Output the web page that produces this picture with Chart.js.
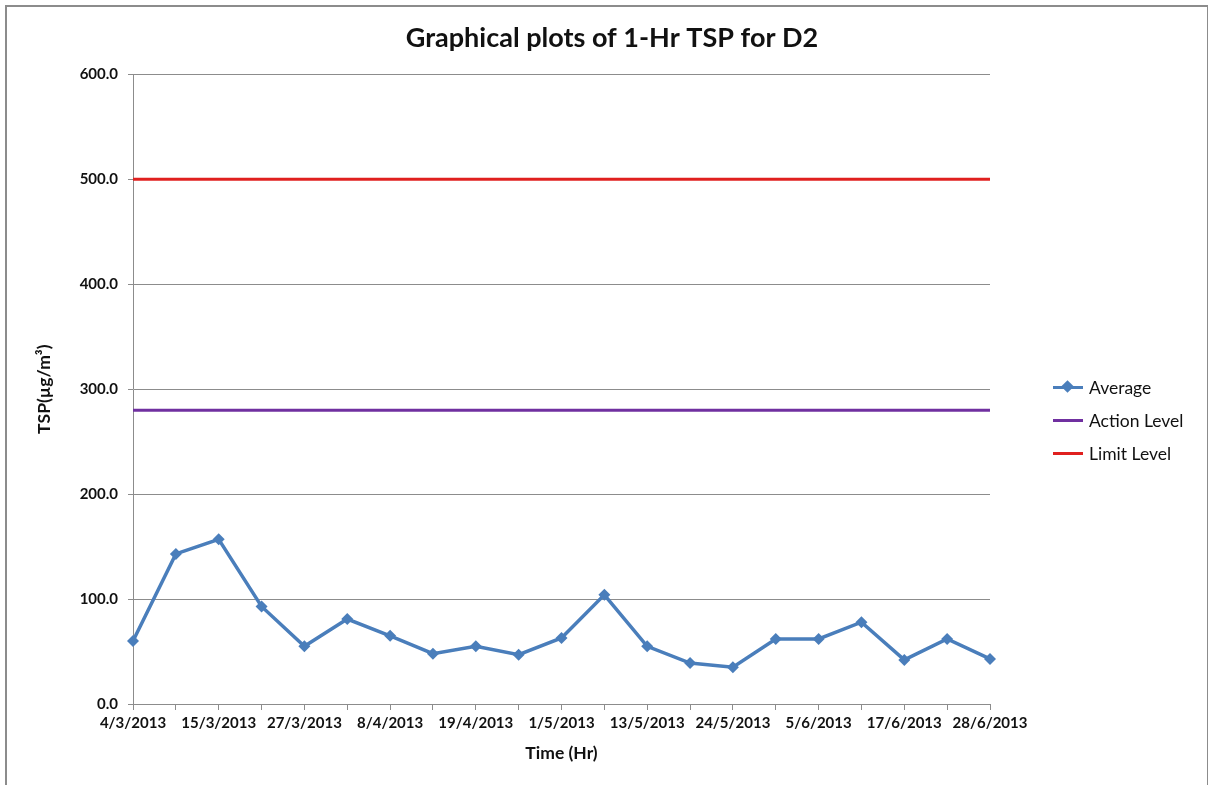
<!DOCTYPE html>
<html>
<head>
<meta charset="utf-8">
<title>Graphical plots of 1-Hr TSP for D2</title>
<script src="https://cdn.jsdelivr.net/npm/chart.js@4/dist/chart.umd.min.js"></script>
<style>
  html, body { margin: 0; padding: 0; background: #fff; overflow: hidden; }
  #wrap { position: relative; width: 1208px; height: 785px; }
  #frame {
    position: absolute; left: 5px; top: 5px; width: 1200px; height: 820px;
    border: 2px solid #8c8c8c; border-bottom: none; pointer-events: none;
  }
  #legend {
    position: absolute; left: 1053px; top: 371px;
    font-family: Lato, "Open Sans", sans-serif; font-size: 17.5px; color: #111;
  }
  .row { display: flex; align-items: center; height: 33px; }
  .key { position: relative; width: 30px; height: 3px; margin-right: 6px; }
  .diamond {
    position: absolute; left: 10px; top: -4px; width: 9px; height: 9px;
    transform: rotate(45deg);
  }
</style>
</head>
<body>
<div id="wrap">
  <canvas id="tspChart" width="1208" height="785"></canvas>
  <div id="legend"></div>
  <div id="frame"></div>
</div>
<script>
// sampling dates (only every other one is labelled on the axis)
const dates = ["4/3/2013", "9/3/2013", "15/3/2013", "21/3/2013", "27/3/2013", "2/4/2013",
  "8/4/2013", "13/4/2013", "19/4/2013", "25/4/2013", "1/5/2013", "7/5/2013", "13/5/2013",
  "18/5/2013", "24/5/2013", "30/5/2013", "5/6/2013", "11/6/2013", "17/6/2013", "22/6/2013",
  "28/6/2013"];
const average = [60, 143, 157, 93, 55, 81, 65, 48, 55, 47, 63, 104, 55, 39, 35, 62, 62, 78, 42, 62, 43];
const actionLevel = 280;
const limitLevel = 500;
const yTicks = [0, 100, 200, 300, 400, 500, 600];

const blue = "#4a7ebb";
const purple = "#7030a0";
const red = "#e0201f";
const axisGrey = "#8c8c8c";
const font = "Lato, 'Open Sans', sans-serif";

Chart.defaults.font.family = font;
Chart.defaults.color = "#111";

const chart = new Chart(document.getElementById("tspChart"), {
    type: "line",
    data: {
        labels: dates,
        datasets: [{
            label: "Average",
            data: average,
            borderColor: blue,
            backgroundColor: blue,
            borderWidth: 3.5,
            pointStyle: "rectRot",
            pointRadius: 6,
            pointBorderWidth: 0,
            tension: 0
        }, {
            label: "Action Level",
            data: dates.map(() => actionLevel),
            borderColor: purple,
            backgroundColor: purple,
            borderWidth: 3,
            pointRadius: 0
        }, {
            label: "Limit Level",
            data: dates.map(() => limitLevel),
            borderColor: red,
            backgroundColor: red,
            borderWidth: 3,
            pointRadius: 0
        }]
    },
    options: {
        responsive: false,
        animation: false,
        layout: { padding: { left: 16, right: 0, top: 0, bottom: 0 } },
        plugins: {
            legend: { display: false },
            tooltip: { enabled: false },
            title: {
                display: true,
                text: "Graphical plots of 1-Hr TSP for D2",
                font: { size: 27, weight: "bold" },
                color: "#111",
                padding: { top: 22, bottom: 20 }
            }
        },
        scales: {
            x: {
                offset: false,
                grid: { drawOnChartArea: false, drawTicks: true, tickLength: 6, color: axisGrey },
                border: { color: axisGrey, width: 1 },
                ticks: {
                    autoSkip: false,
                    maxRotation: 0,
                    padding: 4,
                    font: { size: 15, weight: "bold" },
                    callback: (v, i) => (i % 2 === 0 ? dates[i] : "")
                },
                title: {
                    display: true,
                    text: "Time (Hr)",
                    font: { size: 17.5, weight: "bold" },
                    padding: { top: 21, bottom: 21 }
                },
                afterFit: s => { s.height = 81; }
            },
            y: {
                min: 0,
                max: 600,
                afterBuildTicks: s => { s.ticks = yTicks.map(v => ({ value: v })); },
                grid: { color: axisGrey, tickLength: 5 },
                border: { color: axisGrey, width: 1 },
                ticks: {
                    padding: 10,
                    font: { size: 15, weight: "bold" },
                    callback: v => Number(v).toFixed(1)
                },
                title: {
                    display: true,
                    text: "TSP(µg/m³)",
                    font: { size: 17.5, weight: "bold" },
                    padding: { top: 18, bottom: 18 }
                },
                afterFit: s => { s.width = 117; }
            },
            // empty right-hand box that keeps room for the legend
            legendSpace: {
                type: "linear",
                position: "right",
                grid: { display: false },
                border: { display: false },
                ticks: { display: false },
                afterFit: s => { s.width = 218; }
            }
        }
    }
});

// legend built from the datasets
const legendEl = document.getElementById("legend");
chart.data.datasets.forEach((ds, i) => {
    const row = document.createElement("div");
    row.className = "row";
    const key = document.createElement("span");
    key.className = "key";
    key.style.background = ds.borderColor;
    if (i === 0) {
        const d = document.createElement("span");
        d.className = "diamond";
        d.style.background = ds.borderColor;
        key.appendChild(d);
    }
    const txt = document.createElement("span");
    txt.textContent = ds.label;
    row.appendChild(key);
    row.appendChild(txt);
    legendEl.appendChild(row);
});
</script>
</body>
</html>
